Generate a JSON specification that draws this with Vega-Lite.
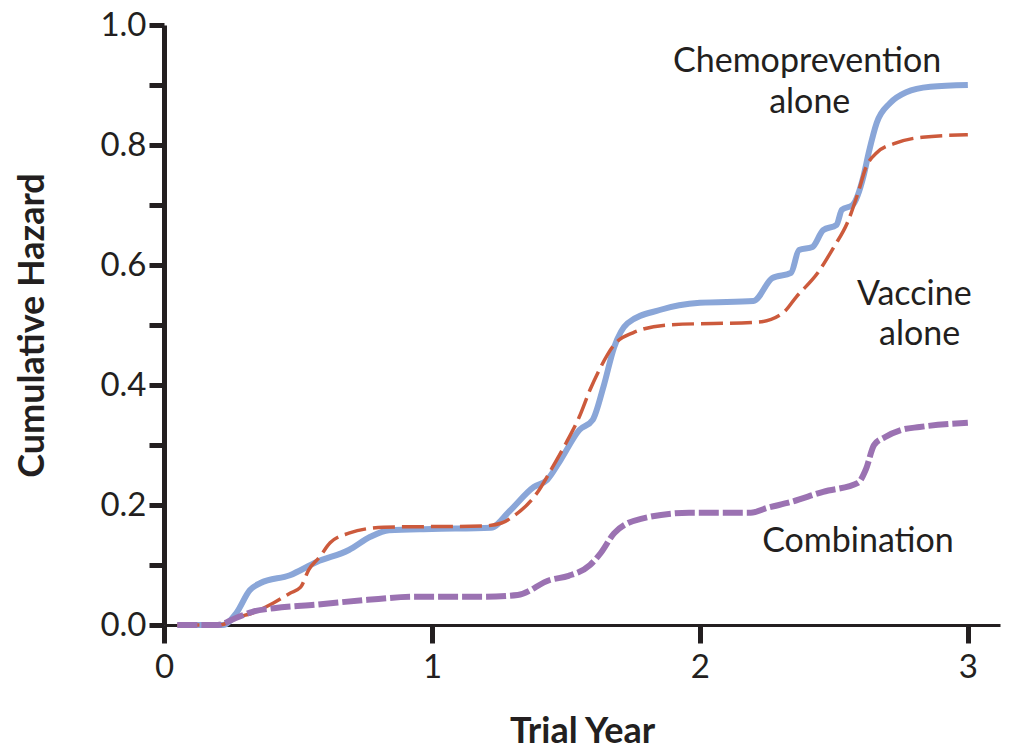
{
  "$schema": "https://vega.github.io/schema/vega-lite/v6.json",
  "width": 836,
  "height": 600,
  "autosize": {"type": "none"},
  "padding": {"left": 164, "top": 25, "right": 9, "bottom": 119},
  "background": "white",
  "config": {
    "view": {"stroke": null},
    "font": "Lato",
    "axisX": {
      "grid": false,
      "domainColor": "#231f20", "domainWidth": 3,
      "tickColor": "#231f20", "tickWidth": 5, "tickSize": 18,
      "labelFont": "Lato", "labelFontSize": 33, "labelColor": "#231f20", "labelPadding": 8,
      "labelFlush": false,
      "titleFont": "Lato", "titleFontSize": 36, "titleFontWeight": "bold", "titleColor": "#231f20",
      "titlePadding": 30
    },
    "axisY": {
      "grid": false,
      "domainColor": "#231f20", "domainWidth": 5,
      "tickColor": "#231f20", "tickWidth": 5, "tickSize": 15,
      "labelFont": "Lato", "labelFontSize": 33, "labelColor": "#231f20", "labelPadding": 3,
      "labelFlush": false,
      "titleFont": "Lato", "titleFontSize": 36, "titleFontWeight": "bold", "titleColor": "#231f20",
      "titlePadding": 48
    }
  },
  "datasets": {
    "curves": [
      {"series": "Chemoprevention alone", "year": 0.05, "hazard": 0.0},
      {"series": "Chemoprevention alone", "year": 0.22, "hazard": 0.0},
      {"series": "Chemoprevention alone", "year": 0.27, "hazard": 0.02},
      {"series": "Chemoprevention alone", "year": 0.32, "hazard": 0.058},
      {"series": "Chemoprevention alone", "year": 0.36, "hazard": 0.07},
      {"series": "Chemoprevention alone", "year": 0.47, "hazard": 0.083},
      {"series": "Chemoprevention alone", "year": 0.57, "hazard": 0.105},
      {"series": "Chemoprevention alone", "year": 0.69, "hazard": 0.125},
      {"series": "Chemoprevention alone", "year": 0.77, "hazard": 0.147},
      {"series": "Chemoprevention alone", "year": 0.84, "hazard": 0.158},
      {"series": "Chemoprevention alone", "year": 1.0, "hazard": 0.16},
      {"series": "Chemoprevention alone", "year": 1.22, "hazard": 0.162},
      {"series": "Chemoprevention alone", "year": 1.29, "hazard": 0.19},
      {"series": "Chemoprevention alone", "year": 1.38, "hazard": 0.23},
      {"series": "Chemoprevention alone", "year": 1.43, "hazard": 0.242},
      {"series": "Chemoprevention alone", "year": 1.48, "hazard": 0.275},
      {"series": "Chemoprevention alone", "year": 1.55, "hazard": 0.325},
      {"series": "Chemoprevention alone", "year": 1.6, "hazard": 0.342},
      {"series": "Chemoprevention alone", "year": 1.64, "hazard": 0.397},
      {"series": "Chemoprevention alone", "year": 1.68, "hazard": 0.463},
      {"series": "Chemoprevention alone", "year": 1.73, "hazard": 0.503},
      {"series": "Chemoprevention alone", "year": 1.85, "hazard": 0.525},
      {"series": "Chemoprevention alone", "year": 2.0, "hazard": 0.537},
      {"series": "Chemoprevention alone", "year": 2.2, "hazard": 0.54},
      {"series": "Chemoprevention alone", "year": 2.27, "hazard": 0.578},
      {"series": "Chemoprevention alone", "year": 2.34, "hazard": 0.587},
      {"series": "Chemoprevention alone", "year": 2.37, "hazard": 0.625},
      {"series": "Chemoprevention alone", "year": 2.42, "hazard": 0.63},
      {"series": "Chemoprevention alone", "year": 2.46, "hazard": 0.658},
      {"series": "Chemoprevention alone", "year": 2.51, "hazard": 0.667},
      {"series": "Chemoprevention alone", "year": 2.53, "hazard": 0.692},
      {"series": "Chemoprevention alone", "year": 2.57, "hazard": 0.7},
      {"series": "Chemoprevention alone", "year": 2.61, "hazard": 0.747},
      {"series": "Chemoprevention alone", "year": 2.63, "hazard": 0.787},
      {"series": "Chemoprevention alone", "year": 2.66, "hazard": 0.837},
      {"series": "Chemoprevention alone", "year": 2.71, "hazard": 0.87},
      {"series": "Chemoprevention alone", "year": 2.77, "hazard": 0.888},
      {"series": "Chemoprevention alone", "year": 2.86, "hazard": 0.897},
      {"series": "Chemoprevention alone", "year": 3.0, "hazard": 0.9},

      {"series": "Vaccine alone", "year": 0.05, "hazard": 0.0},
      {"series": "Vaccine alone", "year": 0.21, "hazard": 0.0},
      {"series": "Vaccine alone", "year": 0.27, "hazard": 0.012},
      {"series": "Vaccine alone", "year": 0.33, "hazard": 0.02},
      {"series": "Vaccine alone", "year": 0.41, "hazard": 0.037},
      {"series": "Vaccine alone", "year": 0.47, "hazard": 0.053},
      {"series": "Vaccine alone", "year": 0.51, "hazard": 0.063},
      {"series": "Vaccine alone", "year": 0.54, "hazard": 0.092},
      {"series": "Vaccine alone", "year": 0.58, "hazard": 0.113},
      {"series": "Vaccine alone", "year": 0.62, "hazard": 0.137},
      {"series": "Vaccine alone", "year": 0.69, "hazard": 0.153},
      {"series": "Vaccine alone", "year": 0.82, "hazard": 0.163},
      {"series": "Vaccine alone", "year": 1.19, "hazard": 0.165},
      {"series": "Vaccine alone", "year": 1.26, "hazard": 0.17},
      {"series": "Vaccine alone", "year": 1.3, "hazard": 0.18},
      {"series": "Vaccine alone", "year": 1.4, "hazard": 0.225},
      {"series": "Vaccine alone", "year": 1.45, "hazard": 0.263},
      {"series": "Vaccine alone", "year": 1.5, "hazard": 0.303},
      {"series": "Vaccine alone", "year": 1.55, "hazard": 0.347},
      {"series": "Vaccine alone", "year": 1.59, "hazard": 0.392},
      {"series": "Vaccine alone", "year": 1.63, "hazard": 0.43},
      {"series": "Vaccine alone", "year": 1.68, "hazard": 0.467},
      {"series": "Vaccine alone", "year": 1.75, "hazard": 0.487},
      {"series": "Vaccine alone", "year": 1.88, "hazard": 0.5},
      {"series": "Vaccine alone", "year": 2.22, "hazard": 0.505},
      {"series": "Vaccine alone", "year": 2.31, "hazard": 0.52},
      {"series": "Vaccine alone", "year": 2.36, "hazard": 0.547},
      {"series": "Vaccine alone", "year": 2.44, "hazard": 0.587},
      {"series": "Vaccine alone", "year": 2.5, "hazard": 0.63},
      {"series": "Vaccine alone", "year": 2.55, "hazard": 0.67},
      {"series": "Vaccine alone", "year": 2.59, "hazard": 0.72},
      {"series": "Vaccine alone", "year": 2.62, "hazard": 0.763},
      {"series": "Vaccine alone", "year": 2.66, "hazard": 0.787},
      {"series": "Vaccine alone", "year": 2.73, "hazard": 0.803},
      {"series": "Vaccine alone", "year": 2.83, "hazard": 0.813},
      {"series": "Vaccine alone", "year": 3.0, "hazard": 0.817},

      {"series": "Combination", "year": 0.05, "hazard": 0.0},
      {"series": "Combination", "year": 0.2, "hazard": 0.0},
      {"series": "Combination", "year": 0.26, "hazard": 0.01},
      {"series": "Combination", "year": 0.33, "hazard": 0.022},
      {"series": "Combination", "year": 0.41, "hazard": 0.028},
      {"series": "Combination", "year": 0.57, "hazard": 0.034},
      {"series": "Combination", "year": 0.76, "hazard": 0.042},
      {"series": "Combination", "year": 0.94, "hazard": 0.047},
      {"series": "Combination", "year": 1.19, "hazard": 0.047},
      {"series": "Combination", "year": 1.32, "hazard": 0.05},
      {"series": "Combination", "year": 1.44, "hazard": 0.075},
      {"series": "Combination", "year": 1.51, "hazard": 0.082},
      {"series": "Combination", "year": 1.59, "hazard": 0.1},
      {"series": "Combination", "year": 1.63, "hazard": 0.12},
      {"series": "Combination", "year": 1.68, "hazard": 0.153},
      {"series": "Combination", "year": 1.78, "hazard": 0.177},
      {"series": "Combination", "year": 1.96, "hazard": 0.187},
      {"series": "Combination", "year": 2.19, "hazard": 0.187},
      {"series": "Combination", "year": 2.25, "hazard": 0.195},
      {"series": "Combination", "year": 2.34, "hazard": 0.205},
      {"series": "Combination", "year": 2.46, "hazard": 0.222},
      {"series": "Combination", "year": 2.59, "hazard": 0.237},
      {"series": "Combination", "year": 2.62, "hazard": 0.26},
      {"series": "Combination", "year": 2.65, "hazard": 0.3},
      {"series": "Combination", "year": 2.69, "hazard": 0.313},
      {"series": "Combination", "year": 2.75, "hazard": 0.325},
      {"series": "Combination", "year": 2.82, "hazard": 0.33},
      {"series": "Combination", "year": 3.0, "hazard": 0.337}
    ],
    "labels": [
      {"label": "Chemoprevention", "year": 2.4, "hazard": 0.938},
      {"label": "alone", "year": 2.41, "hazard": 0.87},
      {"label": "Vaccine", "year": 2.8, "hazard": 0.55},
      {"label": "alone", "year": 2.82, "hazard": 0.484},
      {"label": "Combination", "year": 2.59, "hazard": 0.138}
    ]
  },
  "layer": [
    {
      "data": {"name": "curves"},
      "transform": [{"filter": "datum.series == 'Chemoprevention alone'"}],
      "mark": {"type": "line", "color": "#8aa6d8", "strokeWidth": 6, "interpolate": "monotone"},
      "encoding": {
        "x": {
          "field": "year", "type": "quantitative",
          "scale": {"domain": [0, 3.12], "nice": false, "zero": false},
          "axis": {"title": "Trial Year", "values": [0, 1, 2, 3], "format": "d"}
        },
        "y": {
          "field": "hazard", "type": "quantitative",
          "scale": {"domain": [0, 1], "nice": false},
          "axis": {
            "title": "Cumulative Hazard",
            "values": [0, 0.1, 0.2, 0.3, 0.4, 0.5, 0.6, 0.7, 0.8, 0.9, 1.0],
            "labelExpr": "round(datum.value*10) % 2 == 0 ? format(datum.value, '.1f') : ''"
          }
        }
      }
    },
    {
      "data": {"name": "curves"},
      "transform": [{"filter": "datum.series == 'Vaccine alone'"}],
      "mark": {"type": "line", "color": "#cc5a3c", "strokeWidth": 3.5, "strokeDash": [22, 7], "interpolate": "monotone"},
      "encoding": {
        "x": {"field": "year", "type": "quantitative"},
        "y": {"field": "hazard", "type": "quantitative"}
      }
    },
    {
      "data": {"name": "curves"},
      "transform": [{"filter": "datum.series == 'Combination'"}],
      "mark": {"type": "line", "color": "#9b72b2", "strokeWidth": 6, "strokeDash": [20, 4], "interpolate": "monotone"},
      "encoding": {
        "x": {"field": "year", "type": "quantitative"},
        "y": {"field": "hazard", "type": "quantitative"}
      }
    },
    {
      "data": {"name": "labels"},
      "mark": {"type": "text", "font": "Lato", "fontSize": 34, "color": "#231f20", "align": "center", "baseline": "middle"},
      "encoding": {
        "x": {"field": "year", "type": "quantitative"},
        "y": {"field": "hazard", "type": "quantitative"},
        "text": {"field": "label"}
      }
    }
  ]
}
